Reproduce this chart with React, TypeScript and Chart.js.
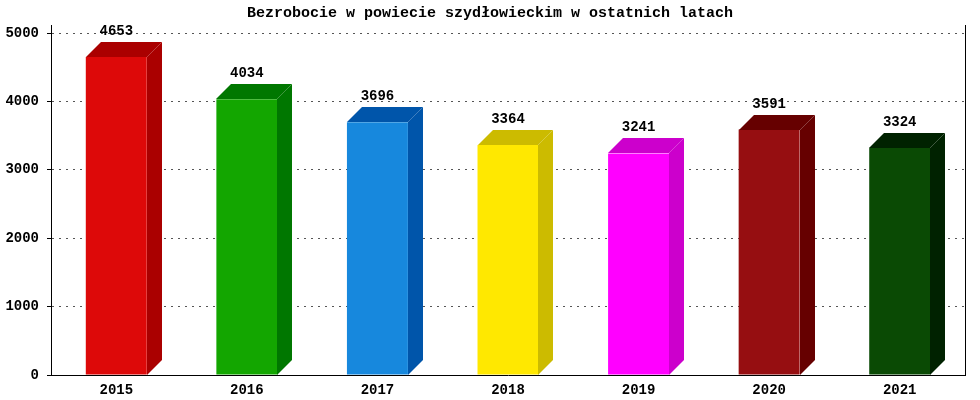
import React, { useEffect, useRef } from 'react';
import { Chart, registerables } from 'chart.js';
Chart.register(...registerables);

const years = ['2015', '2016', '2017', '2018', '2019', '2020', '2021'];
const unemployed = [4653, 4034, 3696, 3364, 3241, 3591, 3324];
const frontColors = ['#DD0909', '#13A600', '#1788DD', '#FFE800', '#FF00FF', '#960E11', '#0A4A04'];
const darkColors = ['#AA0000', '#007700', '#0055AA', '#CCBB00', '#CC00CC', '#660000', '#002200'];
const yTicks = [0, 1000, 2000, 3000, 4000, 5000];
const chartTitle = 'Bezrobocie w powiecie szydłowieckim w ostatnich latach';

const DEPTH = 15;
const FONT = '"Liberation Mono", "DejaVu Sans Mono", monospace';

const bar3d = {
  id: 'bar3d',
  afterDatasetsDraw(chart: any) {
    const ctx = chart.ctx;
    const meta = chart.getDatasetMeta(0);
    const base = chart.scales.y.getPixelForValue(0);
    ctx.save();
    meta.data.forEach((el: any, i: number) => {
      const { x, y, width } = el.getProps(['x', 'y', 'width'], true);
      const l = Math.round(x - width / 2);
      const r = Math.round(x + width / 2);
      const ty = Math.round(y);
      ctx.fillStyle = darkColors[i];
      ctx.beginPath();
      ctx.moveTo(r, base);
      ctx.lineTo(r, ty);
      ctx.lineTo(r + DEPTH, ty - DEPTH);
      ctx.lineTo(r + DEPTH, base - DEPTH);
      ctx.closePath();
      ctx.fill();
      ctx.beginPath();
      ctx.moveTo(l, ty);
      ctx.lineTo(l + DEPTH, ty - DEPTH);
      ctx.lineTo(r + DEPTH, ty - DEPTH);
      ctx.lineTo(r, ty);
      ctx.closePath();
      ctx.fill();
      ctx.fillStyle = '#000';
      ctx.font = 'bold 14px ' + FONT;
      ctx.textAlign = 'center';
      ctx.textBaseline = 'alphabetic';
      ctx.fillText(String(unemployed[i]), x, ty - DEPTH - 7);
    });
    ctx.restore();
  },
  afterDraw(chart: any) {
    const ctx = chart.ctx;
    const a = chart.chartArea;
    ctx.save();
    ctx.strokeStyle = '#000';
    ctx.lineWidth = 1;
    ctx.beginPath();
    ctx.moveTo(Math.round(a.right) + 0.5, a.top);
    ctx.lineTo(Math.round(a.right) + 0.5, a.bottom);
    ctx.stroke();
    ctx.fillStyle = '#000';
    ctx.font = 'bold 15px ' + FONT;
    ctx.textAlign = 'center';
    ctx.textBaseline = 'middle';
    ctx.fillText(chartTitle, 490, 13);
    ctx.restore();
  },
};

export default function App() {
  const ref = useRef<HTMLCanvasElement>(null);
  useEffect(() => {
    document.body.style.margin = '0';
    const chart = new Chart(ref.current as HTMLCanvasElement, {
      type: 'bar',
      data: {
        labels: years,
        datasets: [
          {
            data: unemployed,
            backgroundColor: frontColors,
            borderWidth: 0,
            barPercentage: 0.467,
            categoryPercentage: 1,
          },
        ],
      },
      options: {
        responsive: false,
        animation: false,
        layout: { padding: { top: 25, right: 15, left: 0, bottom: 0 } },
        plugins: { legend: { display: false }, tooltip: { enabled: false }, title: { display: false } },
        scales: {
          x: {
            afterFit: (s: any) => { s.height = 25; },
            grid: { drawOnChartArea: false, drawTicks: false },
            border: { color: '#000', width: 1 },
            ticks: { font: { family: FONT, size: 14, weight: 'bold' }, color: '#000', padding: 7 },
          },
          y: {
            min: 0,
            max: 5120,
            afterBuildTicks: (s: any) => { s.ticks = yTicks.map((v) => ({ value: v })); },
            afterFit: (s: any) => { s.width = 51; },
            ticks: {
              font: { family: FONT, size: 14, weight: 'bold' },
              color: '#000',
              padding: 8,
              callback: (v: any) => String(v),
            },
            grid: {
              color: (c: any) => (c.tick && c.tick.value === 0 ? 'rgba(0,0,0,0)' : '#555'),
              tickColor: '#000',
              tickLength: 4,
              lineWidth: 1,
            },
            border: { color: '#000', width: 1, dash: [2, 5] },
          },
        },
      },
      plugins: [bar3d],
    } as any);
    return () => chart.destroy();
  }, []);
  return (
    <canvas
      ref={ref}
      width={980}
      height={400}
      style={{ position: 'absolute', left: 0, top: 0, display: 'block' }}
    />
  );
}
